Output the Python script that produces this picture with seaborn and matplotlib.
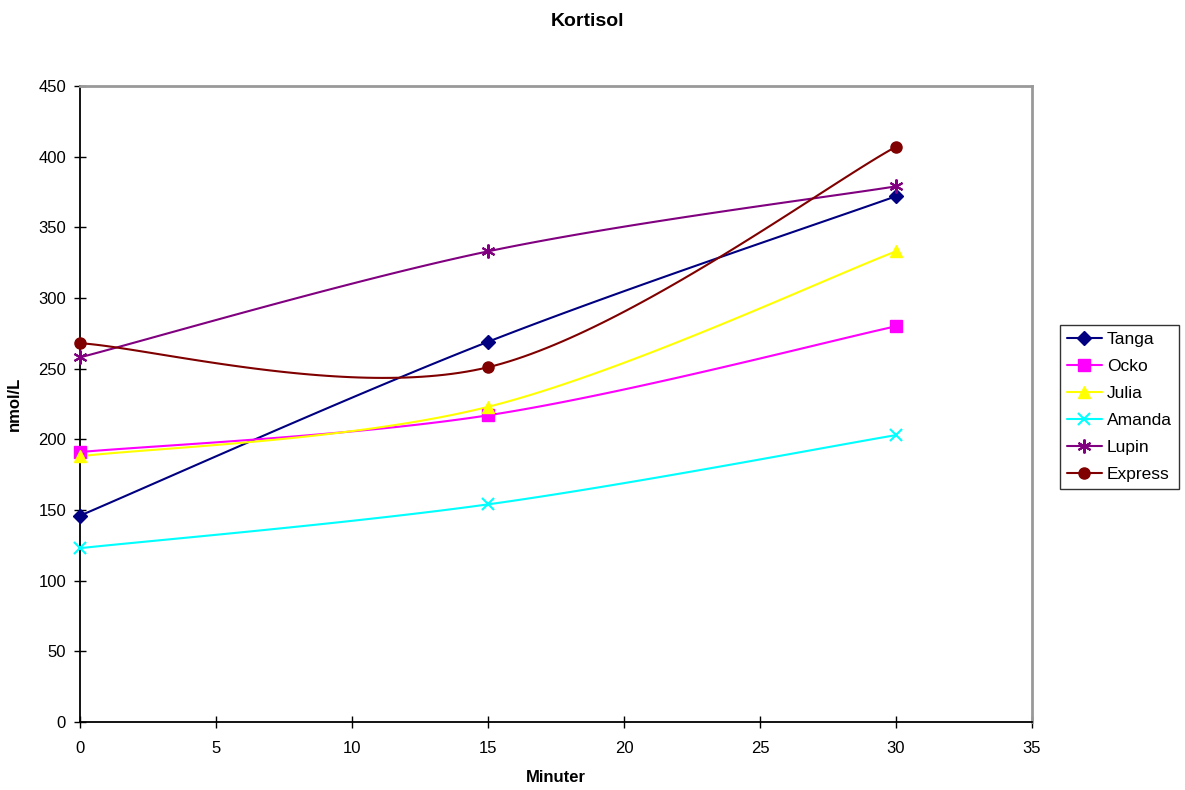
import numpy as np
import pandas as pd
import matplotlib
matplotlib.use("Agg")
import matplotlib.pyplot as plt
from matplotlib.lines import Line2D
import seaborn as sns

minutes = [0, 15, 30]
tanga = [146, 269, 372]
ocko = [191, 217, 280]
julia = [188, 223, 333]
amanda = [123, 154, 203]
lupin = [258, 333, 379]
express = [268, 251, 407]

series_names = ["Tanga", "Ocko", "Julia", "Amanda", "Lupin", "Express"]
series_values = [tanga, ocko, julia, amanda, lupin, express]
colors = ["#000080", "#FF00FF", "#FFFF00", "#00FFFF", "#800080", "#800000"]
markers = ["D", "s", "^", "x", (6, 2, 0), "o"]
marker_sizes = [7, 8, 9, 9, 10, 8]


def smooth_curve(xs, ys, n=60):
    """Bezier spline through points, Catmull-Rom style control points."""
    pts = np.column_stack([xs, ys]).astype(float)
    out = []
    m = len(pts)
    for i in range(m - 1):
        p0 = pts[i - 1] if i > 0 else pts[i]
        p1 = pts[i]
        p2 = pts[i + 1]
        p3 = pts[i + 2] if i + 2 < m else pts[i + 1]
        c1 = p1 + (p2 - p0) / 6.0
        c2 = p2 - (p3 - p1) / 6.0
        t = np.linspace(0, 1, n)[:, None]
        seg = ((1 - t) ** 3) * p1 + 3 * ((1 - t) ** 2) * t * c1 + 3 * (1 - t) * t ** 2 * c2 + t ** 3 * p2
        out.append(seg if i == 0 else seg[1:])
    seg = np.vstack(out)
    return seg[:, 0], seg[:, 1]


sns.set_theme(style="white")
plt.rcParams["font.family"] = ["Liberation Sans", "DejaVu Sans"]
plt.rcParams["text.color"] = "black"
plt.rcParams["axes.labelcolor"] = "black"
plt.rcParams["xtick.color"] = "black"
plt.rcParams["ytick.color"] = "black"

fig = plt.figure(figsize=(11.85, 7.9), dpi=100)
ax = fig.add_axes([80 / 1185, 1 - 722 / 790, (1032 - 80) / 1185, (722 - 86) / 790])

handles = []
for name, vals, col, mk, ms in zip(series_names, series_values, colors, markers, marker_sizes):
    cx, cy = smooth_curve(minutes, vals)
    sns.lineplot(x=cx, y=cy, ax=ax, color=col, linewidth=1.5, sort=False, estimator=None)
    pts = pd.DataFrame({"x": minutes, "y": vals})
    mew = 1.5 if mk in ("x", (6, 2, 0)) else 1
    ax.plot(pts["x"], pts["y"], linestyle="none", marker=mk, color=col,
            markersize=ms, markeredgewidth=mew, clip_on=False, zorder=5)
    handles.append(Line2D([], [], color=col, marker=mk, markersize=ms,
                          markeredgewidth=mew, linewidth=1.5, label=name))

ax.set_xlim(0, 35)
ax.set_ylim(0, 450)
ax.set_xticks(range(0, 36, 5))
ax.set_yticks(range(0, 451, 50))
ax.tick_params(axis="both", which="major", direction="inout", length=8, width=1,
               labelsize=12, color="black", labelcolor="black", bottom=True, left=True)
ax.tick_params(axis="x", pad=10)
ax.tick_params(axis="y", pad=6)
ax.set_xlabel("Minuter", fontsize=12, fontweight="bold", labelpad=10, color="black")
ax.set_ylabel("nmol/L", fontsize=12, fontweight="bold", labelpad=12, color="black")

for side in ("left", "bottom"):
    ax.spines[side].set_color("black")
    ax.spines[side].set_linewidth(1.3)
for side in ("top", "right"):
    ax.spines[side].set_color("#999999")
    ax.spines[side].set_linewidth(2)
ax.set_facecolor("white")
ax.grid(False)

fig.suptitle("Kortisol", x=587 / 1185, y=1 - 22 / 790, fontsize=14, fontweight="bold",
             va="center", color="black")

leg = fig.legend(handles=handles, loc="upper left",
                 bbox_to_anchor=(1060 / 1185, 1 - 325 / 790),
                 fontsize=12.5, frameon=True, fancybox=False, edgecolor="black",
                 handlelength=2.0, handletextpad=0.3, borderpad=0.4, labelspacing=0.68,
                 borderaxespad=0)
leg.get_frame().set_linewidth(1)
for txt in leg.get_texts():
    txt.set_color("black")

fig.savefig("out.png", dpi=100, facecolor="white")
